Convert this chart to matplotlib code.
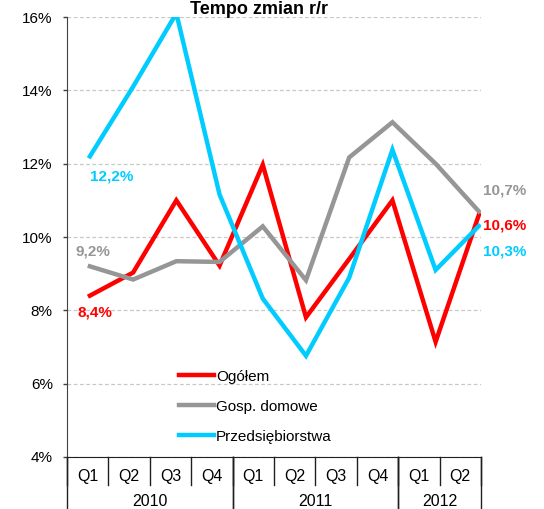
import matplotlib
matplotlib.use("Agg")
import matplotlib.pyplot as plt
from matplotlib.ticker import FuncFormatter

plt.rcParams['font.family'] = ['Liberation Sans', 'DejaVu Sans']

# ======== DATA ========
quarters = ["Q1", "Q2", "Q3", "Q4", "Q1", "Q2", "Q3", "Q4", "Q1", "Q2"]
years = ["2010", "2011", "2012"]
year_spans = [(0, 4), (4, 8), (8, 10)]

ogolem = [8.4, 9.03, 11.0, 9.22, 11.97, 7.81, 9.4, 11.0, 7.14, 10.6]
gosp_domowe = [9.2, 8.84, 9.34, 9.32, 10.29, 8.82, 12.17, 13.13, 12.0, 10.7]
przedsiebiorstwa = [12.2, 14.1, 16.1, 11.16, 8.32, 6.76, 8.89, 12.38, 9.1, 10.3]

series = [
    ("Ogółem", ogolem, "#ff0000"),
    ("Gosp. domowe", gosp_domowe, "#969696"),
    ("Przedsiębiorstwa", przedsiebiorstwa, "#00ccff"),
]
# ======================

W, H = 544, 509
fig = plt.figure(figsize=(W / 100, H / 100), dpi=100)
ax = fig.add_axes([67 / W, 1 - 457 / H, 414 / W, 440 / H])

x = list(range(len(quarters)))
for name, vals, col in series:
    ax.plot(x, vals, color=col, lw=3.2, label=name, solid_joinstyle='miter')

ax.set_ylim(4, 16)
ax.set_xlim(-0.53, 9.05)
ax.set_yticks([4, 6, 8, 10, 12, 14, 16])
ax.yaxis.set_major_formatter(FuncFormatter(lambda v, p: f"{v:.0f}%"))
ax.tick_params(axis='y', labelsize=11, length=3.2, width=1, color='#404040', pad=7)
ax.set_xticks([])
ax.grid(axis='y', color='#c8c8c8', linestyle=(0, (3, 2)), lw=0.9)
ax.set_axisbelow(True)
for s in ['top', 'right']:
    ax.spines[s].set_visible(False)
ax.spines['left'].set_color('#404040')
ax.spines['bottom'].set_color('#202020')

# data labels
labels = [
    (0, ogolem, "#ff0000", (-12, -17)),
    (0, gosp_domowe, "#969696", (-14, 15)),
    (0, przedsiebiorstwa, "#00ccff", (0, -20)),
    (9, gosp_domowe, "#969696", (4, 21)),
    (9, ogolem, "#ff0000", (4, -10)),
    (9, przedsiebiorstwa, "#00ccff", (4, -25)),
]
for i, vals, col, off in labels:
    ax.annotate(f"{vals[i]:.1f}%".replace(".", ","), xy=(i, vals[i]),
                xytext=off, textcoords='offset pixels', ha='left', va='center',
                fontsize=11, fontweight='bold', color=col, annotation_clip=False)

# category table under the axis
q_bottom = -28 / 440
y_bottom = -52 / 440
n = len(quarters)
for k in range(n + 1):
    ax.plot([k / n, k / n], [0, q_bottom], transform=ax.transAxes,
            color='#202020', lw=1, clip_on=False)
for k, q in enumerate(quarters):
    ax.text((k + 0.5) / n, -19 / 440, q, transform=ax.transAxes,
            ha='center', va='center', fontsize=11.5)
for yr, (a, b) in zip(years, year_spans):
    for k in (a, b):
        ax.plot([k / n, k / n], [0, y_bottom], transform=ax.transAxes,
                color='#202020', lw=1, clip_on=False)
    ax.text((a + b) / 2 / n, -45 / 440, yr, transform=ax.transAxes,
            ha='center', va='center', fontsize=11.5)

ax.legend(loc='upper left', bbox_to_anchor=(171 / W, 1 - 362 / H),
          bbox_transform=fig.transFigure, frameon=False, fontsize=11,
          handlelength=2.3, handletextpad=0.15, labelspacing=1.05, borderpad=0)

fig.text(259 / W, 1 - 13.5 / H, "Tempo zmian r/r", ha='center', va='baseline',
         fontsize=13, fontweight='bold')

fig.savefig("out.png", dpi=100)
